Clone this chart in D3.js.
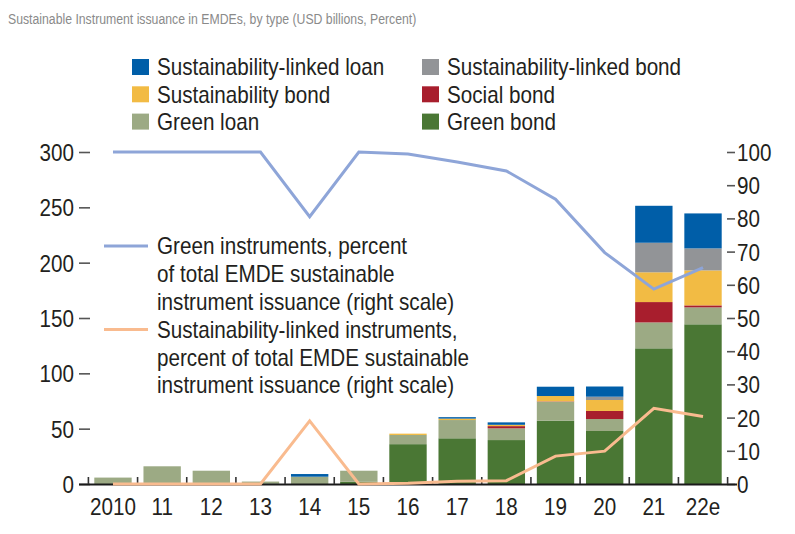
<!DOCTYPE html>
<html>
<head>
<meta charset="utf-8">
<script src="https://cdn.jsdelivr.net/npm/d3@7"></script>
<style>
  html, body { margin: 0; padding: 0; background: #fff; }
  svg { display: block; font-family: "Liberation Sans", Arial, sans-serif; }
</style>
</head>
<body>
<svg id="chart" width="795" height="534"></svg>
<script>
// Issuance by instrument type, USD billions
const years = ["2010", "11", "12", "13", "14", "15", "16", "17", "18", "19", "20", "21", "22e"];
const greenBond          = [0, 0, 0, 0.4, 0, 2, 36, 41.3, 39.7, 57.2, 47.9, 122.6, 144.3];
const greenLoan          = [5.8, 16, 12, 1.8, 6.6, 10, 8.3, 16.5, 10.6, 17.2, 10.8, 23.4, 15.3];
const socialBond         = [0, 0, 0, 0, 0, 0, 0, 0, 2, 0.3, 7.3, 18.4, 1.8];
const sustainabilityBond = [0, 0, 0, 0, 0, 0, 1.2, 1.3, 1.2, 4.8, 9.9, 26.9, 31.6];
const slBond             = [0, 0, 0, 0, 0, 0, 0, 0, 0, 0, 3, 26.7, 19.9];
const slLoan             = [0, 0, 0, 0, 2.4, 0, 0, 1.3, 2.2, 8.4, 9.2, 33.4, 31.6];

// Shares of total EMDE sustainable instrument issuance, percent (right scale)
const greenShare = [100, 100, 100, 100, 80.5, 100, 99.4, 97, 94.3, 85.8, 69.7, 58.7, 65.2];
const slShare    = [0, 0, 0, 0, 19, 0, 0.2, 0.8, 1, 8.4, 9.9, 22.8, 20.3];

const leftTicks  = [0, 50, 100, 150, 200, 250, 300];
const rightTicks = [0, 10, 20, 30, 40, 50, 60, 70, 80, 90, 100];

const seriesKeys   = ["greenBond", "greenLoan", "socialBond", "sustainabilityBond", "slBond", "slLoan"];
const seriesLabels = {
  slLoan: "Sustainability-linked loan",
  slBond: "Sustainability-linked bond",
  sustainabilityBond: "Sustainability bond",
  socialBond: "Social bond",
  greenLoan: "Green loan",
  greenBond: "Green bond"
};
const colors = {
  slLoan: "#005ea8",
  slBond: "#929497",
  sustainabilityBond: "#f2bb44",
  socialBond: "#a81e2d",
  greenLoan: "#9caa84",
  greenBond: "#4a7734"
};
const greenLineColor = "#8ea5d8";
const slLineColor = "#f9bb8f";

const svg = d3.select("#chart");
const textColor = "#231f20";
const fs = 24;          // chart text size
const narrow = 0.86;    // horizontal squeeze for the condensed chart lettering

// Title
svg.append("text")
  .attr("class", "title")
  .attr("x", 8).attr("y", 24)
  .attr("font-size", 15.5)
  .attr("fill", "#8a8a8a")
  .text("Sustainable Instrument issuance in EMDEs, by type (USD billions, Percent)");

// Scales
const x = d3.scaleBand().domain(years).range([88.4, 727.6]).paddingInner(0.24).paddingOuter(0.12);
const yL = d3.scaleLinear().domain([0, 300]).range([484, 152]);
const yR = d3.scaleLinear().domain([0, 100]).range([484, 152]);

// Stacked bars
const table = years.map((yr, i) => ({
  year: yr,
  greenBond: greenBond[i], greenLoan: greenLoan[i], socialBond: socialBond[i],
  sustainabilityBond: sustainabilityBond[i], slBond: slBond[i], slLoan: slLoan[i]
}));
const stacked = d3.stack().keys(seriesKeys)(table);

svg.append("g").selectAll("g")
  .data(stacked)
  .join("g")
  .attr("fill", d => colors[d.key])
  .selectAll("rect")
  .data(d => d)
  .join("rect")
  .attr("x", d => x(d.data.year))
  .attr("width", x.bandwidth())
  .attr("y", d => yL(d[1]))
  .attr("height", d => Math.max(0, yL(d[0]) - yL(d[1])));

// Left axis
const gL = svg.append("g").attr("transform", "translate(90,0)")
  .call(d3.axisLeft(yL).tickValues(leftTicks).tickSize(11).tickPadding(5));
gL.select(".domain").remove();
gL.selectAll("line").attr("stroke", "#555").attr("stroke-width", 1.6);
gL.selectAll("text").attr("class", "cond").attr("font-size", fs).attr("font-family", null)
  .attr("fill", textColor).attr("dy", "0.35em");

// Right axis
const gR = svg.append("g").attr("transform", "translate(727,0)")
  .call(d3.axisRight(yR).tickValues(rightTicks).tickSize(8).tickPadding(2));
gR.select(".domain").remove();
gR.selectAll("line").attr("stroke", "#555").attr("stroke-width", 1.6);
gR.selectAll("text").attr("class", "cond").attr("font-size", fs).attr("font-family", null)
  .attr("fill", textColor).attr("dy", "0.35em");

// Bottom axis: labels, baseline and separators between years
const gB = svg.append("g").attr("transform", "translate(0,484)")
  .call(d3.axisBottom(x).tickSize(0).tickPadding(0));
gB.select(".domain").remove();
gB.selectAll("text").attr("class", "cond").attr("font-size", fs).attr("font-family", null)
  .attr("fill", textColor).attr("dy", null).attr("y", 31);

svg.append("line")
  .attr("x1", 79).attr("x2", 737).attr("y1", 484.5).attr("y2", 484.5)
  .attr("stroke", "#1a1a1a").attr("stroke-width", 1.8);

const bounds = d3.range(years.length + 1).map(k => x.range()[0] + k * x.step());
svg.append("g").selectAll("line")
  .data(bounds)
  .join("line")
  .attr("x1", d => d).attr("x2", d => d)
  .attr("y1", 477).attr("y2", 484)
  .attr("stroke", "#333").attr("stroke-width", 1.6);

// Share lines on the right scale
const line = d3.line()
  .x((d, i) => x(years[i]) + x.bandwidth() / 2)
  .y(d => yR(d));

svg.append("path").datum(slShare)
  .attr("d", line).attr("fill", "none")
  .attr("stroke", slLineColor).attr("stroke-width", 3).attr("stroke-linejoin", "miter");

svg.append("path").datum(greenShare)
  .attr("d", line).attr("fill", "none")
  .attr("stroke", greenLineColor).attr("stroke-width", 3).attr("stroke-linejoin", "miter");

// Bar legend (two columns, three rows)
const legendRows = [
  ["slLoan", "slBond"],
  ["sustainabilityBond", "socialBond"],
  ["greenLoan", "greenBond"]
];
const legendCols = [132, 422];
const legendTop = 67, legendStep = 27.3;
legendRows.forEach((row, r) => {
  row.forEach((key, c) => {
    const cy = legendTop + r * legendStep;
    const g = svg.append("g");
    g.append("rect")
      .attr("x", legendCols[c]).attr("y", cy - 8)
      .attr("width", 17).attr("height", 16)
      .attr("fill", colors[key]);
    g.append("text")
      .attr("class", "cond")
      .attr("x", legendCols[c] + 25).attr("y", cy).attr("dy", "0.35em")
      .attr("font-size", fs).attr("fill", textColor)
      .text(seriesLabels[key]);
  });
});

// Line legend
const lineLegend = [
  { color: greenLineColor, lines: ["Green instruments, percent", "of total EMDE sustainable", "instrument issuance (right scale)"] },
  { color: slLineColor, lines: ["Sustainability-linked instruments,", "percent of total EMDE sustainable", "instrument issuance (right scale)"] }
];
const llTop = 246, llStep = 27.8;
lineLegend.forEach((item, j) => {
  const y0 = llTop + j * 3 * llStep;
  svg.append("line")
    .attr("x1", 104).attr("x2", 148).attr("y1", y0).attr("y2", y0)
    .attr("stroke", item.color).attr("stroke-width", 3);
  item.lines.forEach((t, k) => {
    svg.append("text")
      .attr("class", "cond")
      .attr("x", 157).attr("y", y0 + k * llStep).attr("dy", "0.35em")
      .attr("font-size", fs).attr("fill", textColor)
      .text(t);
  });
});

// Condense lettering horizontally to a narrow face
svg.selectAll("text.cond").each(function () {
  const w = this.getComputedTextLength();
  d3.select(this).attr("textLength", w * narrow).attr("lengthAdjust", "spacingAndGlyphs");
});
svg.select("text.title").each(function () {
  const w = this.getComputedTextLength();
  d3.select(this).attr("textLength", w * 0.79).attr("lengthAdjust", "spacingAndGlyphs");
});
</script>
</body>
</html>
